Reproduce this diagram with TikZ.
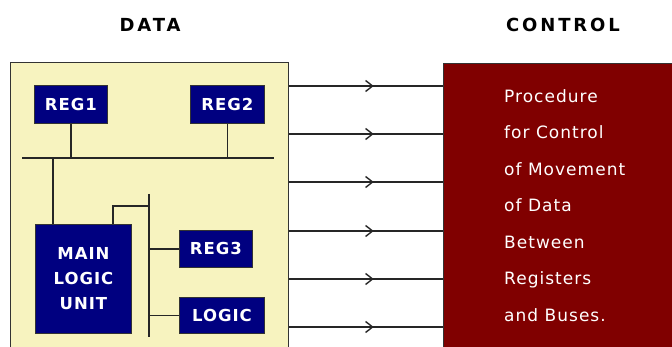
\documentclass[tikz,border=0pt]{standalone}
\usepackage{fontspec}
\setmainfont{DejaVu Sans}
\newfontfamily\titlefont[LetterSpace=16]{DejaVu Sans}
\newfontfamily\boxfont[LetterSpace=6]{DejaVu Sans}
\newfontfamily\ctrlfont[LetterSpace=6]{DejaVu Sans}
\usetikzlibrary{decorations.markings,arrows.meta}
\definecolor{datayellow}{HTML}{F7F3BF}
\definecolor{ctrlred}{HTML}{800000}
\definecolor{regblue}{HTML}{000080}
\definecolor{edgegray}{HTML}{333333}
\tikzset{
  regbox/.style={draw=edgegray, line width=0.9pt, fill=regblue, text=white,
    font=\boxfont\bfseries\fontsize{16.5}{25}\selectfont, inner sep=0pt},
  wire/.style={line width=1.2pt, draw=black!85},
  flow/.style={line width=1.2pt, draw=black!85, postaction={decorate},
    decoration={markings, mark=at position 0.55 with {\arrow{Straight Barb[length=7pt,width=11pt,line width=1.4pt]}}}},
  title/.style={font=\titlefont\bfseries\fontsize{18}{20}\selectfont, text=black}
}
\begin{document}
\begin{tikzpicture}[x=1pt,y=-1pt]
\useasboundingbox (0,0) rectangle (672,347);
\clip (0,0) rectangle (672,347);
% titles
\node[title] (tdata) at (150,25) {DATA};
\node[title] (tctrl) at (563,25) {CONTROL};
% main boxes
\node[draw=edgegray, line width=1pt, fill=datayellow, minimum width=278pt, minimum height=300pt, inner sep=0pt, anchor=north west] (data) at (10,62) {};
\node[draw=edgegray, line width=1pt, fill=ctrlred, minimum width=240pt, minimum height=300pt, inner sep=0pt, anchor=north west] (ctrl) at (443,63) {};
% control text
\node[anchor=north west, text=white, align=left, inner sep=0pt,
  font=\ctrlfont\fontsize{17}{36.5}\selectfont] (proc) at (504,89)
  {Procedure\\for Control\\of Movement\\of Data\\Between\\Registers\\and Buses.};
% registers
\node[regbox, minimum width=73pt, minimum height=38pt, anchor=north west] (reg1) at (34,85) {REG1};
\node[regbox, minimum width=74pt, minimum height=38pt, anchor=north west] (reg2) at (190,85) {REG2};
\node[regbox, minimum width=96pt, minimum height=109pt, anchor=north west, align=center] (mlu) at (35,224) {MAIN\\LOGIC\\UNIT};
\node[regbox, minimum width=73pt, minimum height=37pt, anchor=north west] (reg3) at (179,230) {REG3};
\node[regbox, minimum width=85pt, minimum height=36pt, anchor=north west] (logic) at (179,297) {LOGIC};
% buses
\coordinate (busL) at (22,158);
\coordinate (busR) at (274,158);
\draw[wire] (busL) -- (busR);
\coordinate (bus2T) at (149,194);
\coordinate (bus2B) at (149,337);
\draw[wire] (bus2T) -- (bus2B);
\draw[wire] (reg1.south) -- (reg1.south |- busL);
\draw[wire] (reg2.south) -- (reg2.south |- busL);
\draw[wire] (mlu.north -| 53,0) -- (53,158);
\coordinate (mluT) at (113,224);
\draw[wire] (mluT) |- (bus2T |- 0,206);
\draw[wire] (reg3.west) -- (reg3.west -| bus2T);
\draw[wire] (logic.west) -- (logic.west -| bus2T);
% control flows
\foreach \yy in {86,134,182,231,279,327}{
  \draw[flow] (data.east |- 0,\yy) -- (ctrl.west |- 0,\yy);
}
\end{tikzpicture}
\end{document}
